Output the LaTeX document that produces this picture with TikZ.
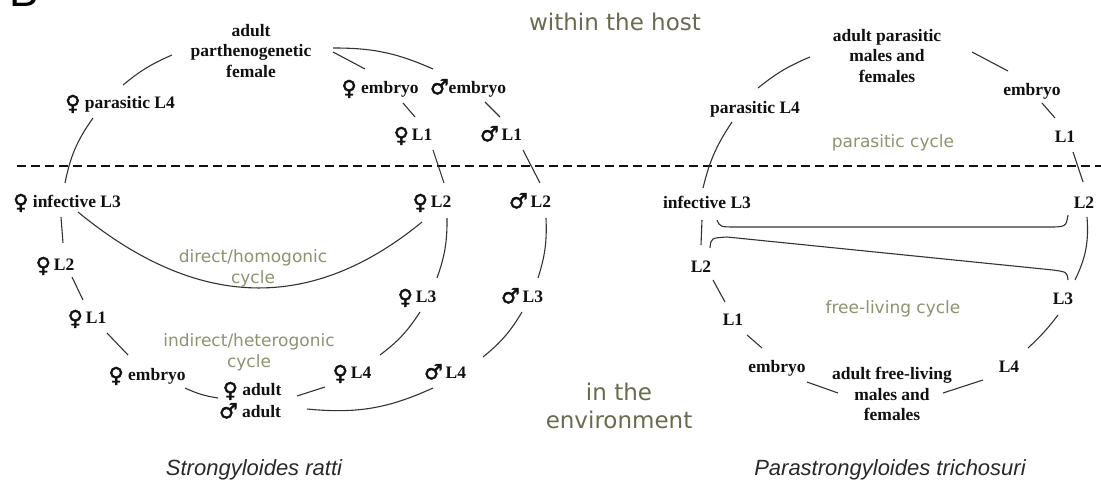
\documentclass[tikz,border=0pt]{standalone}
\usepackage{fontspec}
\setmainfont{Liberation Serif}
\newfontfamily\symfont[FakeBold=2]{DejaVu Sans}
\newfontfamily\cyclefont{DejaVu Sans}
\newfontfamily\captfont{Liberation Sans}
\usetikzlibrary{calc}

\definecolor{zonecol}{HTML}{6A6B4E}
\definecolor{cyclecol}{HTML}{8C9470}
\definecolor{linecol}{HTML}{333333}
\definecolor{inkcol}{HTML}{111111}

\newcommand\femsym{\raisebox{-1.5pt}{\symfont\fontsize{21}{21}\selectfont\char"2640}}
\newcommand\malsym{\raisebox{-0.5pt}{\symfont\fontsize{21}{21}\selectfont\char"2642}}

\tikzset{
  stage/.style={font=\bfseries\fontsize{17.5}{20.5}\selectfont, text=inkcol,
                inner sep=0pt, text height=14pt, text depth=2.5pt},
  multistage/.style={font=\bfseries\fontsize{17.5}{20.5}\selectfont, text=inkcol,
                inner sep=0pt, align=center},
  cyclelabel/.style={font=\cyclefont\fontsize{17}{21}\selectfont, text=cyclecol,
                inner sep=0pt, align=center},
  zonelabel/.style={font=\cyclefont\fontsize{23}{28}\selectfont, text=zonecol,
                inner sep=0pt, align=center},
  species/.style={font=\captfont\itshape\fontsize{22}{26}\selectfont, text=inkcol!90,
                inner sep=0pt},
  link/.style={draw=linecol, line width=1.1pt},
  divider/.style={draw=inkcol, line width=1.4pt, dash pattern=on 9pt off 5pt}
}

\begin{document}
\begin{tikzpicture}[x=1pt,y=-1pt]
\useasboundingbox (0,0) rectangle (1101,491);
\fill[white] (0,0) rectangle (1101,491);

% panel letter, mostly above the top edge
\node[font=\captfont\fontsize{44}{44}\selectfont, anchor=base west, inner sep=0pt] (panel) at (9,6) {B};

% host / environment boundary
\coordinate (divL) at (17,166);
\coordinate (divR) at (1101,166);
\draw[divider] (divL) -- (divR);

\node[zonelabel] (host) at (615,22) {within the host};
\node[zonelabel] (env) at (619,406) {in the\\environment};

% ---------------- Strongyloides ratti ----------------
\node[multistage] (A) at (251,51) {adult\\parthenogenetic\\female};
\node[stage] (pL4) at (120,103) {\femsym\ parasitic L4};
\node[stage] (fEmb) at (380,88) {\femsym\ embryo};
\node[stage] (mEmb) at (468,88) {\malsym embryo};
\node[stage] (fL1) at (413,135) {\femsym\,L1};
\node[stage] (mL1) at (501,135) {\malsym\,L1};
\node[stage] (iL3) at (67,202) {\femsym\ infective L3};
\node[stage] (fL2) at (432,202) {\femsym\,L2};
\node[stage] (mL2) at (530,202) {\malsym\,L2};
\node[stage] (lL2) at (55,265) {\femsym\,L2};
\node[stage] (lL1) at (87,318) {\femsym\,L1};
\node[stage] (lEmb) at (147,375) {\femsym\ embryo};
\node[stage] (fL3) at (417,297) {\femsym\,L3};
\node[stage] (mL3) at (522,297) {\malsym\,L3};
\node[stage] (fL4) at (352,373) {\femsym\,L4};
\node[stage] (mL4) at (445,373) {\malsym\,L4};
\node[stage] (fAd) at (252,390) {\femsym\ adult};
\node[stage] (mAd) at (250,412) {\malsym\ adult};

\node[cyclelabel] (direct) at (253,268) {direct/homogonic\\cycle};
\node[cyclelabel] (indirect) at (249,352) {indirect/heterogonic\\cycle};

% parasitic part
\draw[link] ([shift={(-2,-19)}]iL3.center) to[bend left=12] ([shift={(-27,15)}]pL4.center);
\draw[link] ([shift={(3,-18)}]pL4.center) to[bend left=8] ([shift={(-79,4)}]A.center);
\draw[link] ([shift={(82,1)}]A.center) -- ([shift={(-15,-19)}]fEmb.center);
\draw[link] ([shift={(82,-3)}]A.center) to[bend left=12] ([shift={(-35,-19)}]mEmb.center);
\draw[link] ([shift={(23,15)}]fEmb.center) -- ([shift={(2,-18)}]fL1.center);
\draw[link] ([shift={(17,14)}]mEmb.center) -- ([shift={(-1,-18)}]mL1.center);
\draw[link] ([shift={(20,15)}]fL1.center) -- ([shift={(12,-19)}]fL2.center);
\draw[link] ([shift={(22,15)}]mL1.center) -- ([shift={(10,-19)}]mL2.center);
% free-living development
\draw[link] ([shift={(15,16)}]fL2.center) to[bend left=10] ([shift={(20,-19)}]fL3.center);
\draw[link] ([shift={(16,16)}]mL2.center) to[bend left=10] ([shift={(16,-19)}]mL3.center);
\draw[link] ([shift={(3,15)}]fL3.center) to[bend left=10] ([shift={(28,-18)}]fL4.center);
\draw[link] ([shift={(0,15)}]mL3.center) to[bend left=10] ([shift={(38,-16)}]mL4.center);
\draw[link] ([shift={(-27,14)}]fL4.center) -- ([shift={(45,6)}]fAd.center);
\draw[link] ([shift={(-12,15)}]mL4.center) to[bend left=15] ([shift={(57,-3)}]mAd.center);
\draw[link] ([shift={(38,13)}]lEmb.center) to[bend right=8] ([shift={(-34,8)}]fAd.center);
\draw[link] ([shift={(20,15)}]lL1.center) -- ([shift={(-19,-20)}]lEmb.center);
\draw[link] ([shift={(17,12)}]lL2.center) -- ([shift={(-4,-18)}]lL1.center);
\draw[link] ([shift={(-6,15)}]iL3.center) -- ([shift={(8,-22)}]lL2.center);
% direct (homogonic) route
\draw[link] ([shift={(11,10)}]iL3.center) .. controls (197,310) and (311,313) .. ([shift={(-10,20)}]fL2.center);

% ---------------- Parastrongyloides trichosuri ----------------
\node[multistage] (B1) at (887,56) {adult parasitic\\males and\\females};
\node[stage] (pL4r) at (755,108) {parasitic L4};
\node[stage] (embR) at (1032,90) {embryo};
\node[stage] (L1r) at (1065,137) {L1};
\node[stage] (iL3r) at (707,203) {infective L3};
\node[stage] (L2r) at (1084,203) {L2};
\node[stage] (L2l) at (701,267) {L2};
\node[stage] (L1l) at (733,320) {L1};
\node[stage] (embF) at (777,367) {embryo};
\node[multistage] (adF) at (892,394) {adult free-living\\males and\\females};
\node[stage] (L4f) at (1009,367) {L4};
\node[stage] (L3f) at (1063,299) {L3};

\node[cyclelabel] (parcyc) at (893,143) {parasitic cycle};
\node[cyclelabel] (freecyc) at (893,309) {free-living cycle};

\draw[link] ([shift={(-4,-15)}]iL3r.center) to[bend left=10] ([shift={(-23,14)}]pL4r.center);
\draw[link] ([shift={(3,-20)}]pL4r.center) to[bend left=8] ([shift={(-77,1)}]B1.center);
\draw[link] ([shift={(85,-4)}]B1.center) -- ([shift={(-24,-19)}]embR.center);
\draw[link] ([shift={(10,13)}]embR.center) -- ([shift={(-10,-19)}]L1r.center);
\draw[link] ([shift={(8,15)}]L1r.center) -- ([shift={(-1,-21)}]L2r.center);
\draw[link] ([shift={(-5,17)}]iL3r.center) -- ([shift={(0,-22)}]L2l.center);
\draw[link] ([shift={(12,13)}]L2l.center) -- ([shift={(-8,-18)}]L1l.center);
\draw[link] ([shift={(14,15)}]L1l.center) -- ([shift={(-15,-19)}]embF.center);
\draw[link] ([shift={(30,15)}]embF.center) -- ([shift={(-54,-1)}]adF.center);
\draw[link] ([shift={(-26,13)}]L4f.center) -- ([shift={(51,-1)}]adF.center);
\draw[link] ([shift={(-5,16)}]L3f.center) to[bend left=5] ([shift={(19,-19)}]L4f.center);
\draw[link] ([shift={(3,14)}]L2r.center) to[bend left=15] ([shift={(12,-19)}]L3f.center);
% cross-over routes between the two cycles
\draw[link] ([shift={(10,17)}]iL3r.center)
  .. controls ([shift={(13,24)}]iL3r.center) .. ([shift={(30,24)}]iL3r.center)
  -- ([shift={(-37,24)}]L2r.center)
  .. controls ([shift={(-18,24)}]L2r.center) .. ([shift={(-16,12)}]L2r.center);
\draw[link] ([shift={(9,-19)}]L2l.center)
  .. controls ([shift={(10,-29)}]L2l.center) .. ([shift={(26,-30)}]L2l.center)
  -- ([shift={(-10,-29)}]L3f.center)
  .. controls ([shift={(4,-27)}]L3f.center) .. ([shift={(5,-19)}]L3f.center);

% species names
\node[species] (ratti) at (254,470) {Strongyloides ratti};
\node[species] (trich) at (890,470) {Parastrongyloides trichosuri};
\end{tikzpicture}
\end{document}
